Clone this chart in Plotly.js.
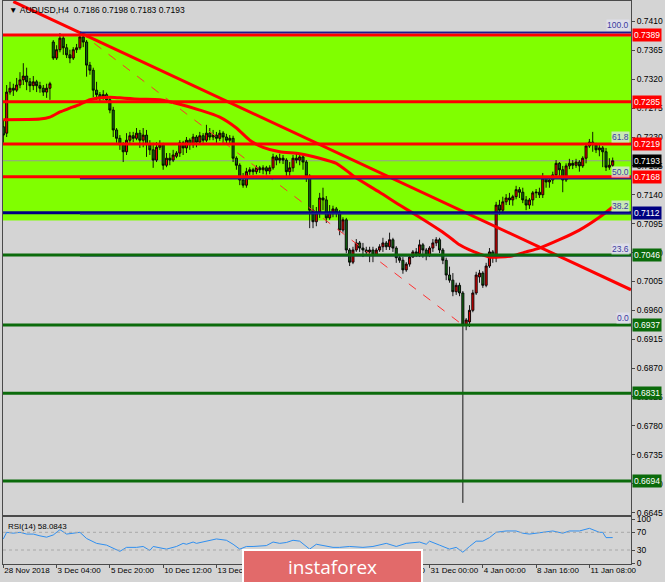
<!DOCTYPE html>
<html><head><meta charset="utf-8">
<script src="https://cdn.plot.ly/plotly-3.0.1.min.js"></script>
<style>html,body{margin:0;padding:0;background:#d4d4d4;}#chart{width:665px;height:582px;}</style>
</head><body><div id="chart"></div>
<script>
// ---------- DATA ----------
const symbolTitle = "AUDUSD,H4";
const open = [.7246,.7236,.7300,.7306,.7303,.7311,.7319,.7325,.7316,.7310,.7316,.7310,.7306,.7300,.7306,.7378,.7353,.7366,.7384,.7369,.7358,.7353,.7366,.7369,.7386,.7378,.7342,.7334,.7303,.7296,.7291,.7296,.7288,.7272,.7241,.7228,.7218,.7207,.7225,.7232,.7228,.7236,.7225,.7233,.7218,.7210,.7194,.7214,.7218,.7186,.7197,.7194,.7200,.7205,.7221,.7213,.7225,.7218,.7230,.7222,.7232,.7225,.7236,.7230,.7233,.7228,.7236,.7230,.7225,.7228,.7197,.7186,.7163,.7155,.7176,.7179,.7176,.7182,.7179,.7182,.7177,.7182,.7199,.7194,.7197,.7194,.7176,.7182,.7197,.7194,.7199,.7191,.7169,.7116,.7098,.7113,.7135,.7132,.7104,.7112,.7118,.7112,.7085,.7101,.7054,.7035,.7054,.7065,.7057,.7054,.7051,.7054,.7046,.7054,.7059,.7065,.7059,.7070,.7057,.7042,.7038,.7023,.7032,.7043,.7051,.7048,.7062,.7054,.7046,.7057,.7065,.7070,.7054,.7038,.7015,.7007,.6989,.6999,.6987,.6937,.6942,.6960,.6987,.7012,.7018,.6999,.7029,.7051,.7042,.7124,.7116,.7129,.7135,.7132,.7137,.7148,.7144,.7132,.7124,.7132,.7143,.7144,.7140,.7166,.7160,.7163,.7171,.7189,.7179,.7163,.7185,.7189,.7186,.7191,.7185,.7197,.7216,.7222,.7218,.7210,.7213,.7207,.7183,.7186];
const high = [.7257,.7311,.7316,.7313,.7322,.7331,.7345,.7338,.7322,.7325,.7319,.7316,.7311,.7313,.7316,.7381,.7373,.7392,.7387,.7375,.7366,.7370,.7375,.7393,.7392,.7381,.7347,.7338,.7316,.7300,.7303,.7299,.7291,.7277,.7244,.7233,.7222,.7236,.7238,.7238,.7244,.7241,.7244,.7241,.7225,.7221,.7222,.7225,.7221,.7205,.7205,.7210,.7208,.7225,.7224,.7230,.7228,.7235,.7233,.7238,.7236,.7249,.7244,.7241,.7238,.7241,.7239,.7235,.7233,.7232,.7200,.7189,.7174,.7182,.7183,.7182,.7186,.7185,.7186,.7185,.7186,.7204,.7202,.7204,.7202,.7197,.7191,.7202,.7204,.7205,.7202,.7194,.7172,.7124,.7121,.7143,.7151,.7138,.7124,.7123,.7121,.7116,.7105,.7104,.7057,.7059,.7071,.7068,.7065,.7059,.7059,.7059,.7057,.7063,.7073,.7068,.7081,.7073,.7060,.7045,.7043,.7035,.7046,.7054,.7057,.7070,.7065,.7057,.7060,.7071,.7074,.7073,.7057,.7042,.7028,.7018,.7003,.7003,.6990,.6948,.6968,.6992,.7020,.7023,.7021,.7034,.7057,.7054,.7129,.7132,.7137,.7141,.7143,.7140,.7154,.7152,.7151,.7138,.7135,.7146,.7149,.7151,.7174,.7169,.7168,.7176,.7194,.7191,.7185,.7189,.7196,.7194,.7196,.7194,.7200,.7221,.7227,.7238,.7221,.7218,.7216,.7213,.7197,.7198];
const low = [.7221,.7230,.7296,.7294,.7300,.7306,.7311,.7303,.7300,.7303,.7300,.7299,.7294,.7291,.7288,.7350,.7350,.7362,.7358,.7353,.7345,.7350,.7361,.7366,.7370,.7324,.7327,.7292,.7288,.7285,.7288,.7283,.7267,.7230,.7221,.7210,.7191,.7202,.7221,.7222,.7225,.7213,.7214,.7199,.7202,.7182,.7191,.7210,.7179,.7183,.7186,.7191,.7197,.7199,.7202,.7205,.7210,.7213,.7214,.7218,.7221,.7222,.7225,.7225,.7221,.7224,.7218,.7219,.7218,.7191,.7179,.7155,.7151,.7151,.7171,.7171,.7172,.7174,.7172,.7171,.7172,.7179,.7186,.7189,.7188,.7169,.7166,.7176,.7189,.7186,.7179,.7160,.7088,.7088,.7091,.7104,.7116,.7096,.7101,.7105,.7105,.7077,.7081,.7049,.7029,.7032,.7051,.7051,.7043,.7046,.7035,.7035,.7045,.7051,.7051,.7054,.7054,.7051,.7034,.7034,.7017,.7020,.7028,.7042,.7043,.7043,.7042,.7038,.7043,.7051,.7060,.7049,.7032,.7007,.7003,.6982,.6984,.6982,.6660,.6929,.6934,.6957,.6984,.7003,.6995,.6996,.7026,.7034,.7035,.7109,.7112,.7124,.7124,.7123,.7133,.7135,.7127,.7116,.7118,.7123,.7135,.7135,.7135,.7151,.7151,.7157,.7166,.7166,.7144,.7160,.7180,.7180,.7182,.7176,.7182,.7189,.7213,.7207,.7205,.7200,.7183,.7177,.7179,.7183];
const close = [.7233,.7300,.7306,.7303,.7311,.7319,.7325,.7316,.7310,.7316,.7310,.7306,.7300,.7306,.7313,.7353,.7366,.7384,.7369,.7358,.7353,.7366,.7369,.7386,.7378,.7342,.7334,.7303,.7296,.7291,.7296,.7288,.7272,.7241,.7228,.7218,.7207,.7225,.7232,.7228,.7236,.7225,.7233,.7218,.7210,.7194,.7214,.7218,.7186,.7197,.7194,.7202,.7205,.7221,.7213,.7225,.7218,.7230,.7222,.7232,.7225,.7236,.7230,.7233,.7228,.7236,.7230,.7225,.7228,.7197,.7186,.7163,.7155,.7176,.7179,.7176,.7182,.7179,.7182,.7177,.7182,.7199,.7194,.7197,.7194,.7176,.7182,.7197,.7194,.7199,.7191,.7169,.7116,.7098,.7113,.7135,.7132,.7104,.7113,.7118,.7112,.7085,.7101,.7054,.7035,.7054,.7065,.7057,.7054,.7051,.7054,.7046,.7054,.7059,.7065,.7059,.7070,.7057,.7042,.7038,.7023,.7032,.7043,.7051,.7048,.7062,.7054,.7046,.7057,.7065,.7070,.7054,.7038,.7015,.7007,.6989,.6999,.6987,.6937,.6945,.6960,.6987,.7015,.7018,.6999,.7029,.7051,.7042,.7124,.7116,.7129,.7135,.7132,.7137,.7148,.7144,.7132,.7124,.7132,.7143,.7144,.7140,.7166,.7160,.7163,.7171,.7189,.7179,.7163,.7185,.7189,.7186,.7191,.7185,.7197,.7216,.7222,.7218,.7210,.7213,.7207,.7183,.7186,.7193];

const timeTickBars = [0,16,32,48,64,80,96,112,128,144,160,176];
const timeTickLabels = ["28 Nov 2018","3 Dec 04:00","5 Dec 20:00","10 Dec 12:00","13 Dec 04:00","17 Dec 20:00","20 Dec 12:00","26 Dec 04:00","31 Dec 00:00","4 Jan 00:00","8 Jan 16:00","11 Jan 08:00"];
const priceTicks = [0.6645,0.6690,0.6735,0.6780,0.6825,0.6870,0.6915,0.6960,0.7005,0.7050,0.7095,0.7140,0.7185,0.7230,0.7275,0.7320,0.7365,0.7410];

const maBars = [0,11,14,17,20,23,26,29,32,35,41,47,53,59,65,70,74,78,83,89,95,100,104,106,113,119,125,131,135,137,140,143,146,149,153,157,161,167,173,179,183];
const maValues = [.7257,.7258,.7261,.7269,.7275,.7281,.7288,.7291,.7292,.7291,.7289,.7288,.7281,.7272,.7261,.7244,.7225,.7214,.7207,.7204,.7197,.7189,.7174,.7166,.7144,.7124,.7105,.7085,.7070,.7062,.7054,.7048,.7043,.7043,.7045,.7051,.7057,.7070,.7085,.7105,.7121];

const trendBars = [3, 188.5];
const trendPrices = [0.7441, 0.6992];

const fibSwingBars = [23, 138];
const fibSwingPrices = [0.7393, 0.6937];
const fibLabels = ["100.0","61.8","50.0","38.2","23.6","0.0"];
const fibPrices = [0.7393,0.7219,0.7165,0.7111,0.7045,0.6937];

const levelPrices = [0.7389,0.7285,0.7219,0.7168,0.7112,0.7046,0.6937,0.6831,0.6694];
const levelKinds = ["resistance","resistance","resistance","resistance","pivot","support","support","support","support"];
const zoneBounds = [0.7100, 0.7387];

const rsiBars = [0,1,3,5,7,9,11,13,15,17,19,21,23,25,28,31,35,37,40,42,44,45,49,52,54,55,57,58,61,64,67,69,71,73,75,79,81,83,85,87,89,91,92,94,97,99,101,104,108,111,115,118,121,125,127,128,131,134,136,138,140,142,144,146,148,151,154,156,158,162,165,168,170,173,176,179,180,181,183];
const rsiValues = [55,70,68,70,66,66,62,59,64,76,66,68,70,56,45,41,27,36,36,38,29,38,32,38,45,43,48,45,50,55,52,43,32,38,38,40,48,45,47,52,50,38,32,43,38,36,36,38,36,38,45,38,45,48,43,50,41,32,36,25,38,50,50,58,70,73,73,68,66,70,73,68,73,73,79,70,70,58,58.0843];
const rsiLevels = [70, 30];
const rsiTicks = [0,30,70,100];

// ---------- STYLE ----------
const kindColor = {resistance:"#ff0000", pivot:"#000080", support:"#0b6b0b"};
const bg = "#d4d4d4", frame = "#4a4a4a";
const FONT = "Liberation Sans, Arial, sans-serif";
const bars = close.map((_, i) => i);
const last = close.length - 1;
const nb = "\u00a0";

const traces = [
  {type:"candlestick", x:bars, open:open, high:high, low:low, close:close, xaxis:"x2", yaxis:"y",
   increasing:{line:{color:"#000", width:0.9}, fillcolor:"#e00000"},
   decreasing:{line:{color:"#000", width:0.9}, fillcolor:"#0f6a0f"},
   whiskerwidth:0, hoverinfo:"skip", showlegend:false},
  {type:"scatter", mode:"lines", x:maBars, y:maValues, xaxis:"x2", yaxis:"y",
   line:{color:"#ff0000", width:3, shape:"spline", smoothing:0.6}, hoverinfo:"skip"},
  {type:"scatter", mode:"lines", x:trendBars, y:trendPrices, xaxis:"x2", yaxis:"y",
   line:{color:"#ff0000", width:3}, hoverinfo:"skip"},
  {type:"scatter", mode:"lines", x:fibSwingBars, y:fibSwingPrices, xaxis:"x2", yaxis:"y",
   line:{color:"#ff3030", width:1, dash:"dash"}, hoverinfo:"skip"},
  {type:"scatter", mode:"lines", x:rsiBars, y:rsiValues, xaxis:"x", yaxis:"y2",
   line:{color:"#2f8ff0", width:1}, hoverinfo:"skip"}
];

const shapes = [];
shapes.push({type:"rect", xref:"paper", yref:"y", x0:0, x1:1, y0:zoneBounds[0], y1:zoneBounds[1],
  fillcolor:"#80ff00", line:{width:0}, layer:"below"});
shapes.push({type:"line", xref:"paper", yref:"y", x0:0, x1:1, y0:close[last], y1:close[last],
  line:{color:"#9a9a9a", width:1}, layer:"below"});
fibPrices.forEach(p => shapes.push({type:"line", xref:"x2", yref:"y", x0:fibSwingBars[0], x1:188.5, y0:p, y1:p,
  line:{color:"#1a1a90", width:1.5}}));
levelPrices.forEach((p, i) => shapes.push({type:"line", xref:"paper", yref:"y", x0:0, x1:1, y0:p, y1:p,
  line:{color:kindColor[levelKinds[i]], width:3}}));
[0,3].forEach(k => shapes.push({type:"line", xref:"x2", yref:"y", x0:fibSwingBars[0], x1:188.5, y0:fibPrices[k], y1:fibPrices[k],
  line:{color:"#1a1a90", width:1.5}}));
rsiLevels.forEach(v => shapes.push({type:"line", xref:"paper", yref:"y2", x0:0, x1:1, y0:v, y1:v,
  line:{color:"#a8a8a8", width:1, dash:"dot"}}));
shapes.push({type:"rect", xref:"paper", yref:"paper", x0:0.3822, x1:0.6672, y0:0.0249, y1:-0.05,
  fillcolor:"#e26a6a", line:{color:"#ffffff", width:2}, layer:"above"});

const annotations = [];
annotations.push({xref:"paper", yref:"paper", x:0, y:1, xanchor:"left", yanchor:"top", xshift:4, yshift:-2,
  text:"\u25BC" + nb + symbolTitle + nb + nb + open[last].toFixed(4) + nb + high[last].toFixed(4) + nb + low[last].toFixed(4) + nb + close[last].toFixed(4),
  showarrow:false, font:{family:FONT, size:8.5, color:"#000"}});
annotations.push({xref:"paper", yref:"paper", x:0, y:0.0835, xanchor:"left", yanchor:"top", xshift:3, yshift:-3,
  text:"RSI(14)" + nb + rsiValues[rsiValues.length-1].toFixed(4), showarrow:false, font:{family:FONT, size:8, color:"#000"}});
fibLabels.forEach((t, i) => annotations.push({xref:"paper", yref:"y", x:1, y:fibPrices[i], xanchor:"right", yanchor:"bottom",
  yshift:1, xshift:-1, text:t, showarrow:false, bgcolor:"rgba(226,226,240,0.75)", borderpad:0,
  font:{family:FONT, size:8.5, color:"#3a3aa0"}}));
levelPrices.forEach((p, i) => annotations.push({xref:"paper", yref:"y", x:1, y:p, xanchor:"left", yanchor:"middle",
  xshift:1, text:p.toFixed(4), showarrow:false, bgcolor:kindColor[levelKinds[i]], borderpad:1,
  font:{family:FONT, size:8.5, color:"#ffffff"}}));
annotations.push({xref:"paper", yref:"y", x:1, y:close[last], xanchor:"left", yanchor:"middle", xshift:1,
  text:close[last].toFixed(4), showarrow:false, bgcolor:"#000000", borderpad:1, font:{family:FONT, size:8.5, color:"#ffffff"}});
annotations.push({xref:"paper", yref:"paper", x:0.5247, y:-0.006, xanchor:"center", yanchor:"middle",
  text:"instaforex", showarrow:false, font:{family:"Open Sans, sans-serif", size:19, color:"#ffffff"}});

const axBase = {showgrid:false, zeroline:false, showline:true, mirror:true, linecolor:frame, linewidth:1};
const layout = {
  width:665, height:582,
  margin:{l:3, r:34, t:1, b:18},
  paper_bgcolor:bg, plot_bgcolor:bg, showlegend:false, boxgap:0.1,
  font:{family:FONT, size:9, color:"#000"},
  xaxis:Object.assign({}, axBase, {domain:[0,1], anchor:"y2", range:[-0.1,188.5], tickmode:"array",
    tickvals:timeTickBars, ticktext:timeTickLabels, ticks:"outside", ticklen:3, tickcolor:frame, tickangle:0,
    ticklabelposition:"outside right", ticklabelstandoff:-2, tickfont:{family:FONT, size:8}, rangeslider:{visible:false}}),
  xaxis2:Object.assign({}, axBase, {matches:"x", anchor:"y", showticklabels:false, ticks:"", rangeslider:{visible:false}}),
  yaxis:Object.assign({}, axBase, {domain:[0.0870,1], anchor:"x2", side:"right", range:[0.66411,0.74419],
    tickmode:"array", tickvals:priceTicks, tickformat:".4f", ticks:"outside", ticklen:3, tickcolor:frame,
    tickfont:{family:FONT, size:8.5}}),
  yaxis2:Object.assign({}, axBase, {domain:[0,0.0835], anchor:"x", side:"right", range:[-1.6,104.6],
    tickmode:"array", tickvals:rsiTicks, ticks:"outside", ticklen:3, tickcolor:frame, tickfont:{family:FONT, size:8.5}}),
  shapes:shapes, annotations:annotations
};
Plotly.newPlot("chart", traces, layout, {displayModeBar:false, staticPlot:true});
</script></body></html>
